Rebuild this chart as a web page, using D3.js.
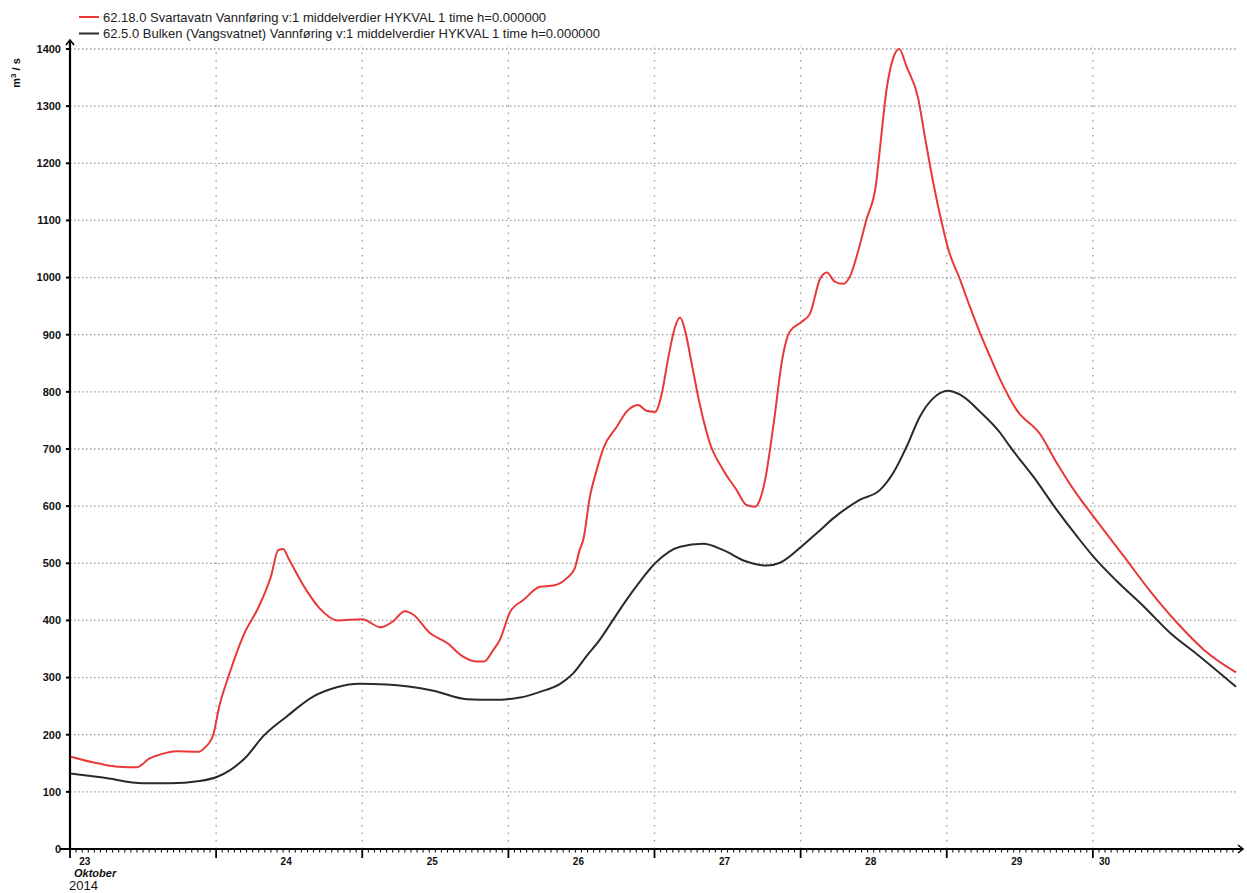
<!DOCTYPE html>
<html>
<head>
<meta charset="utf-8">
<script src="https://cdn.jsdelivr.net/npm/d3@7"></script>
<style>
  body { margin: 0; background: #fff; }
  svg { display: block; }
</style>
</head>
<body>
<div id="chart"></div>
<script>
// hours after 23 Oct 2014 00:00
var redHours = [0, 5, 8, 11, 13, 15, 17.5, 21, 22, 23.5, 24.5, 26, 28.5, 31, 33, 34.2, 35, 36, 39, 41, 44, 48, 51, 53, 55, 56.4, 59, 62, 64.5, 66.8, 68, 69.5, 70.6, 72.3, 74.5, 77.2, 79.4, 81.6, 82.9, 83.7, 84.3, 85.4, 86.5, 87.6, 89.8, 91.4, 93.3, 94.7, 96.1, 97.2, 98.2, 99.3, 100.2, 101, 102.1, 103.4, 105.1, 107.3, 109.5, 111.1, 112.5, 113.3, 114.2, 115.5, 117.1, 118.2, 120.1, 121.5, 123.2, 124.3, 125.6, 127, 128.1, 129.2, 130.8, 132.4, 133, 134.1, 135.2, 136.2, 137.4, 139.3, 140.4, 141.8, 143.2, 144.3, 146.2, 147.8, 149.5, 151.1, 152.8, 155.5, 159.4, 162.1, 164.9, 168.3, 173.1, 177.5, 181.9, 186.3, 191.5];
var redValues = [162, 149, 144, 143, 158, 166, 171, 170, 176, 199, 249, 301, 374, 424, 477, 523, 525, 506, 450, 421, 400, 402, 388, 398, 416, 410, 379, 360, 337, 328, 328, 348, 366, 415, 436, 459, 461, 474, 491, 523, 541, 617, 663, 701, 739, 765, 777, 767, 765, 797, 856, 911, 930, 908, 850, 780, 710, 663, 628, 602, 599, 611, 648, 739, 864, 905, 922, 936, 998, 1009, 993, 989, 1002, 1037, 1101, 1165, 1223, 1328, 1384, 1400, 1369, 1314, 1247, 1165, 1095, 1048, 996, 949, 902, 862, 821, 768, 725, 675, 628, 579, 512, 450, 395, 348, 309];

var blackHours = [0, 5.4, 12, 16.4, 21.3, 24.1, 26.3, 29, 31.7, 35.6, 40, 43.8, 47.6, 52, 59.7, 65.2, 69.5, 73.9, 77.2, 80.5, 82.6, 84.8, 87, 89.2, 91.4, 93.6, 96.1, 100.2, 104, 107.3, 111.1, 114.4, 116.6, 120.1, 123.2, 125.4, 129.7, 133, 135.2, 137.4, 139.6, 141.8, 144.2, 146.2, 149.5, 152.8, 154.4, 158.2, 162.1, 165.4, 168.3, 172, 176.4, 180.8, 185.2, 191.5];
var blackValues = [132, 125, 115, 115, 119, 126, 138, 162, 197, 232, 267, 283, 289, 288, 277, 262, 261, 265, 275, 289, 307, 337, 366, 401, 436, 468, 500, 529, 534, 523, 503, 496, 501, 529, 558, 579, 611, 628, 658, 704, 757, 789, 802, 795, 765, 728, 704, 652, 593, 547, 509, 468, 424, 377, 340, 284];

var seriesNames = [
  "62.18.0 Svartavatn Vannføring v:1 middelverdier HYKVAL 1 time h=0.000000",
  "62.5.0 Bulken (Vangsvatnet) Vannføring v:1 middelverdier HYKVAL 1 time h=0.000000"
];
var seriesColors = ["#e8383a", "#2a2a2a"];

var yTicks = [0, 100, 200, 300, 400, 500, 600, 700, 800, 900, 1000, 1100, 1200, 1300, 1400];
var dayLabels = ["23", "24", "25", "26", "27", "28", "29", "30"];
var dayLabelTimes = ["2014-10-23T01:30", "2014-10-24T11:30", "2014-10-25T11:30", "2014-10-26T11:30", "2014-10-27T11:30", "2014-10-28T11:30", "2014-10-29T11:30", "2014-10-30T01:00"];

var svgWidth = 1247, svgHeight = 893;
var margin = {left: 70, right: 8, top: 49, bottom: 44};

var parse = d3.timeParse("%Y-%m-%dT%H:%M");
var start = parse("2014-10-23T00:00");
var end = parse("2014-10-31T00:00");
var toDate = h => new Date(start.getTime() + h * 3600 * 1000);

var svg = d3.select("#chart").append("svg")
  .attr("width", svgWidth)
  .attr("height", svgHeight);

var x = d3.scaleTime()
  .domain([start, end])
  .range([margin.left, svgWidth - margin.right]);

var y = d3.scaleLinear()
  .domain([0, 1400])
  .range([svgHeight - margin.bottom, margin.top]);

var font = "'Liberation Sans Narrow', 'Liberation Sans', Arial, sans-serif";

// grid
var gridRight = x(toDate(191.5));
svg.append("g").selectAll("line")
  .data(yTicks.slice(1))
  .enter().append("line")
  .attr("x1", margin.left).attr("x2", gridRight)
  .attr("y1", d => y(d)).attr("y2", d => y(d))
  .attr("stroke", "#9a9a9a").attr("stroke-width", 1.3)
  .attr("stroke-dasharray", "1.5,2.5");

var days = d3.timeDay.range(d3.timeDay.offset(start, 1), end);
svg.append("g").selectAll("line")
  .data(days)
  .enter().append("line")
  .attr("x1", d => x(d)).attr("x2", d => x(d))
  .attr("y1", y(0)).attr("y2", y(1400) - 3)
  .attr("stroke", "#9a9a9a").attr("stroke-width", 1.3)
  .attr("stroke-dasharray", "1.5,6");

// series
var line = d3.line()
  .x(d => x(d[0]))
  .y(d => y(d[1]))
  .curve(d3.curveMonotoneX);

var redData = redHours.map((h, i) => [toDate(h), redValues[i]]);
var blackData = blackHours.map((h, i) => [toDate(h), blackValues[i]]);

svg.append("path").datum(blackData)
  .attr("d", line).attr("fill", "none")
  .attr("stroke", seriesColors[1]).attr("stroke-width", 2);

svg.append("path").datum(redData)
  .attr("d", line).attr("fill", "none")
  .attr("stroke", seriesColors[0]).attr("stroke-width", 2);

// x axis with hourly minor ticks
var x0 = y(0);
svg.append("line")
  .attr("x1", margin.left - 10).attr("x2", svgWidth - 5)
  .attr("y1", x0).attr("y2", x0)
  .attr("stroke", "#000").attr("stroke-width", 2.2);
svg.append("path")
  .attr("d", `M${svgWidth - 9},${x0 - 4} L${svgWidth - 4},${x0} L${svgWidth - 9},${x0 + 4}`)
  .attr("fill", "none").attr("stroke", "#000").attr("stroke-width", 1.6);

var hours = d3.timeHour.range(start, end);
svg.append("g").selectAll("line")
  .data(hours)
  .enter().append("line")
  .attr("x1", d => x(d)).attr("x2", d => x(d))
  .attr("y1", x0).attr("y2", d => d.getHours() === 0 ? x0 + 9 : x0 + 3.5)
  .attr("stroke", "#000")
  .attr("stroke-width", d => d.getHours() === 0 ? 1.8 : 1);

svg.append("g").selectAll("text")
  .data(dayLabels)
  .enter().append("text")
  .attr("x", (d, i) => x(parse(dayLabelTimes[i])))
  .attr("y", x0 + 16)
  .attr("text-anchor", (d, i) => i === 0 || i === dayLabels.length - 1 ? "start" : "middle")
  .attr("font-family", font).attr("font-size", 10).attr("font-weight", "bold")
  .attr("fill", "#111")
  .text(d => d);

svg.append("text")
  .attr("x", margin.left + 4).attr("y", x0 + 28)
  .attr("font-family", font).attr("font-size", 11).attr("font-weight", "bold")
  .attr("font-style", "italic").attr("fill", "#111")
  .text("Oktober");
svg.append("text")
  .attr("x", margin.left - 1).attr("y", x0 + 41)
  .attr("font-family", "'Liberation Sans', Arial, sans-serif").attr("font-size", 13)
  .attr("fill", "#111")
  .text("2014");

// y axis
svg.append("line")
  .attr("x1", margin.left).attr("x2", margin.left)
  .attr("y1", x0).attr("y2", y(1400) - 9)
  .attr("stroke", "#000").attr("stroke-width", 2.2);
svg.append("path")
  .attr("d", `M${margin.left - 4},${y(1400) - 4} L${margin.left},${y(1400) - 9} L${margin.left + 4},${y(1400) - 4}`)
  .attr("fill", "none").attr("stroke", "#000").attr("stroke-width", 1.6);

var yt = svg.append("g").selectAll("g")
  .data(yTicks)
  .enter().append("g")
  .attr("transform", d => `translate(0,${y(d)})`);
yt.append("line")
  .attr("x1", margin.left - 4).attr("x2", margin.left + 1)
  .attr("stroke", "#000").attr("stroke-width", 2);
yt.append("text")
  .attr("x", margin.left - 9).attr("dy", "0.35em")
  .attr("text-anchor", "end")
  .attr("font-family", font).attr("font-size", 11).attr("font-weight", "bold")
  .attr("fill", "#111")
  .text(d => d);

var yl = svg.append("text")
  .attr("transform", "translate(20,73) rotate(-90)")
  .attr("text-anchor", "middle")
  .attr("font-family", font).attr("font-size", 11).attr("font-weight", "bold")
  .attr("fill", "#111");
yl.append("tspan").text("m");
yl.append("tspan").attr("dy", -4).attr("font-size", 8).text("3");
yl.append("tspan").attr("dy", 4).text(" / s");

// legend
var legend = svg.append("g").selectAll("g")
  .data(seriesNames)
  .enter().append("g")
  .attr("transform", (d, i) => `translate(79,${17 + i * 16.5})`);
legend.append("line")
  .attr("x1", 0).attr("x2", 20)
  .attr("stroke", (d, i) => seriesColors[i]).attr("stroke-width", 2);
legend.append("text")
  .attr("x", 24).attr("dy", "0.35em")
  .attr("font-family", font).attr("font-size", 13)
  .attr("fill", "#222")
  .text(d => d);
</script>
</body>
</html>
